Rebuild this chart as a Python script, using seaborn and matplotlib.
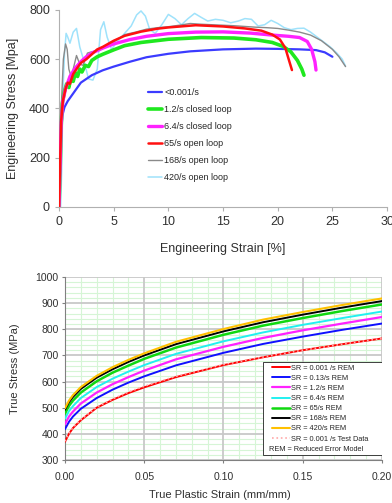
import matplotlib
matplotlib.use("Agg")
import matplotlib.pyplot as plt
from matplotlib.ticker import MultipleLocator
from matplotlib.patches import Rectangle
import seaborn as sns
import pandas as pd

# ---------- top chart data (engineering stress-strain) ----------
eng_labels = ["<0.001/s", "1.2/s closed loop", "6.4/s closed loop",
              "65/s open loop", "168/s open loop", "420/s open loop"]

strain_blue = [0, 0.1, 0.2, 0.3, 0.5, 0.8, 1.2, 2, 3, 4, 5, 6.5, 8, 10, 12, 15, 18, 20, 22, 23.5, 24.3, 25]
stress_blue = [0, 150, 300, 370, 405, 430, 455, 505, 535, 555, 570, 590, 608, 622, 632, 640, 643, 642, 640, 637, 628, 610]

strain_green = [0, 0.1, 0.2, 0.3, 0.5, 0.7, 0.9, 1.1, 1.3, 1.5, 1.7, 1.9, 2.1, 2.4, 2.7, 3, 3.5, 4, 5, 6,
                7.5, 10, 13, 16, 18, 19.5, 20.5, 21.2, 21.8, 22.2, 22.4]
stress_green = [0, 150, 330, 420, 470, 500, 485, 525, 510, 545, 530, 560, 548, 575, 570, 595, 610, 620, 638, 655,
                668, 681, 688, 686, 679, 668, 652, 630, 595, 560, 535]

strain_magenta = [0, 0.1, 0.2, 0.35, 0.6, 1, 1.5, 2, 2.5, 3, 4, 5, 6.5, 8, 10, 12.5, 15, 17.5, 19.5, 21, 22,
                  22.7, 23.1, 23.4, 23.5]
stress_magenta = [0, 170, 340, 430, 480, 530, 565, 590, 610, 625, 645, 662, 680, 693, 704, 710, 711, 706, 698, 693, 688,
                  672, 640, 590, 556]

strain_red = [0, 0.1, 0.2, 0.35, 0.6, 0.8, 1, 1.3, 1.6, 2, 2.5, 3, 3.5, 4, 5, 6, 7.5, 9, 10, 12.5, 15, 17,
              18.5, 19.5, 20.2, 20.7, 21, 21.3]
stress_red = [0, 180, 350, 430, 480, 505, 500, 540, 560, 585, 600, 620, 640, 650, 675, 695, 712, 724, 729, 738, 733, 725,
              716, 700, 680, 645, 600, 556]

strain_gray = [0, 0.1, 0.25, 0.4, 0.6, 0.75, 0.9, 1.1, 1.3, 1.6, 1.9, 2.2, 2.6, 3, 3.5, 4, 5, 6, 7, 8, 9, 10,
               11, 12, 13, 14, 15, 16, 17, 18, 19, 20, 21, 22, 23, 24, 25, 25.6, 26.2]
stress_gray = [0, 200, 450, 600, 662, 640, 560, 530, 560, 615, 580, 575, 625, 630, 635, 645, 670, 700, 710, 722, 728, 732,
               738, 745, 742, 740, 738, 736, 733, 730, 728, 725, 718, 710, 698, 675, 640, 610, 570]

strain_cyan = [0.15, 0.25, 0.35, 0.5, 0.65, 0.8, 1, 1.3, 1.6, 1.9, 2.3, 2.7, 3.1, 3.5, 3.8, 4.1, 4.4, 4.8, 5.3, 6,
               6.6, 7.1, 7.5, 7.9, 8.3, 8.8, 9.4, 10, 10.6, 11.2, 11.8, 12.4, 13, 13.6, 14.3, 15, 15.7, 16.4, 17,
               17.6, 18.2, 18.8, 19.4, 20, 20.6, 21.2, 21.8, 22.4, 23, 23.6, 24.2, 24.8, 25.4, 25.9, 26.2]
stress_cyan = [0, 150, 450, 620, 705, 690, 665, 710, 725, 650, 590, 520, 515, 560, 720, 752, 690, 640, 670, 705,
               735, 780, 796, 775, 720, 705, 740, 782, 765, 740, 765, 786, 770, 755, 762, 758, 748, 755, 765,
               762, 735, 740, 758, 745, 728, 720, 725, 726, 710, 690, 670, 650, 625, 600, 572]

# ---------- bottom chart data (true stress vs true plastic strain) ----------
true_strain = [0, 0.0025, 0.005, 0.01, 0.02, 0.03, 0.04, 0.05, 0.07, 0.10, 0.125, 0.15, 0.175, 0.20]
rem_0001 = [370, 400, 422, 452, 500, 530, 556, 578, 617, 663, 693, 720, 743, 765]
rem_013 = [418, 446, 466, 496, 537, 569, 596, 620, 662, 710, 744, 772, 798, 822]
rem_12 = [437, 466, 485, 516, 558, 590, 617, 642, 685, 733, 767, 796, 822, 847]
rem_64 = [458, 487, 506, 537, 579, 611, 638, 663, 706, 754, 788, 817, 843, 868]
rem_65 = [478, 507, 527, 558, 601, 634, 661, 687, 730, 779, 814, 843, 870, 895]
rem_168 = [492, 521, 541, 572, 615, 647, 675, 700, 743, 792, 827, 856, 883, 908]
rem_420 = [498, 527, 548, 579, 622, 655, 683, 708, 752, 801, 837, 866, 893, 918]
test_0001 = [372, 402, 424, 454, 502, 533, 560, 582, 620, 665, 694, 720, 743, 765]
true_labels = ["SR = 0.001 /s REM", "SR = 0.13/s REM", "SR = 1.2/s REM", "SR = 6.4/s REM",
               "SR = 65/s REM", "SR = 168/s REM", "SR = 420/s REM", "SR = 0.001 /s Test Data"]
x_major = [0, 0.05, 0.10, 0.15, 0.20]
y_major = [300, 400, 500, 600, 700, 800, 900, 1000]

sns.set_style("white")
plt.rcParams["font.family"] = ["Liberation Sans", "DejaVu Sans"]

fig = plt.figure(figsize=(3.92, 5.03), dpi=100)
ax1 = fig.add_axes([0.1505, 0.5885, 0.837, 0.3917])
ax2 = fig.add_axes([0.1658, 0.0855, 0.8087, 0.3638])

# top chart
eng_series = [
    (strain_blue, stress_blue, "#3b3bff", 1.6, 3),
    (strain_green, stress_green, "#1fe81f", 2.6, 4),
    (strain_magenta, stress_magenta, "#ff22ff", 2.4, 5),
    (strain_red, stress_red, "#ff1010", 1.8, 6),
    (strain_gray, stress_gray, "#8a8a8a", 1.0, 2),
    (strain_cyan, stress_cyan, "#9fe2fb", 1.1, 1),
]
for (xs, ys, col, lw, z), lab in zip(eng_series, eng_labels):
    df = pd.DataFrame({"strain": xs, "stress": ys})
    sns.lineplot(data=df, x="strain", y="stress", ax=ax1, color=col, linewidth=lw,
                 estimator=None, sort=False, label=lab, zorder=z)

ax1.set_xlim(0, 30)
ax1.set_ylim(0, 800)
ax1.set_xticks(range(0, 31, 5))
ax1.set_yticks(range(0, 801, 200))
for s in ["top", "right"]:
    ax1.spines[s].set_visible(False)
for s in ["left", "bottom"]:
    ax1.spines[s].set_color("#b0b0b0")
ax1.tick_params(axis="both", labelsize=9, length=3, color="#b0b0b0", pad=3.5, direction="out",
                left=True, bottom=True, labelcolor="#303030")
ax1.set_xlabel("Engineering Strain [%]", fontsize=9, color="#303030")
ax1.set_ylabel("Engineering Stress [Mpa]", fontsize=9, color="#303030")
ax1.xaxis.set_label_coords(0.5, -0.185)
ax1.yaxis.set_label_coords(-0.122, 0.5)
ax1.legend(loc="upper left", bbox_to_anchor=(0.3776, 0.825), bbox_transform=fig.transFigure,
           frameon=False, fontsize=6.5, handlelength=1.55, handletextpad=0.25,
           labelspacing=0.88, borderpad=0, borderaxespad=0)

# bottom chart
true_series = [
    (rem_0001, "#ff0000", 1.4, "-"),
    (rem_013, "#1010ff", 1.4, "-"),
    (rem_12, "#ff22ff", 1.6, "-"),
    (rem_64, "#22f0f0", 1.4, "-"),
    (rem_65, "#10d810", 1.8, "-"),
    (rem_168, "#000000", 1.4, "-"),
    (rem_420, "#ffc000", 1.5, "-"),
    (test_0001, "#ffa8a8", 1.2, ":"),
]
for (ys, col, lw, ls), lab in zip(true_series, true_labels):
    df = pd.DataFrame({"strain": true_strain, "stress": ys})
    sns.lineplot(data=df, x="strain", y="stress", ax=ax2, color=col, linewidth=lw,
                 linestyle=ls, estimator=None, sort=False, label=lab, zorder=3)

ax2.set_xlim(0, 0.20)
ax2.set_ylim(300, 1000)
ax2.set_xticks(x_major)
ax2.set_xticklabels(["0.00", "0.05", "0.10", "0.15", "0.20"])
ax2.set_yticks(y_major)
ax2.xaxis.set_minor_locator(MultipleLocator(0.01))
ax2.yaxis.set_minor_locator(MultipleLocator(20))
ax2.grid(which="minor", color="#d6f5d6", linewidth=0.8, linestyle="-")
ax2.grid(which="major", visible=False)
ax2.set_axisbelow(True)
# major grid drawn over the green minor grid
for xv in x_major:
    ax2.axvline(xv, color="#c8c8c8", linewidth=1.3, zorder=1)
for yv in y_major:
    ax2.axhline(yv, color="#c8c8c8", linewidth=1.3, zorder=1)
for s in ["top", "right"]:
    ax2.spines[s].set_visible(False)
for s in ["left", "bottom"]:
    ax2.spines[s].set_color("#808080")
    ax2.spines[s].set_zorder(2)
ax2.tick_params(axis="both", which="major", labelsize=7.5, length=2.5, color="#808080",
                direction="out", left=True, bottom=True, labelcolor="#303030")
ax2.tick_params(axis="y", which="major", pad=2)
ax2.tick_params(axis="x", which="major", pad=6)
ax2.tick_params(which="minor", length=0)
ax2.set_xlabel("True Plastic Strain (mm/mm)", fontsize=8, color="#303030")
ax2.set_ylabel("True Stress (MPa)", fontsize=8, color="#303030")
ax2.xaxis.set_label_coords(0.489, -0.164)
ax2.yaxis.set_label_coords(-0.142, 0.5)

# legend box with note line
ax2.add_patch(Rectangle((0.625, 0.027), 0.375, 0.508, transform=ax2.transAxes,
                        facecolor="white", edgecolor="#202020", linewidth=0.6, zorder=4))
leg = ax2.legend(loc="upper left", bbox_to_anchor=(0.694, 0.275), bbox_transform=fig.transFigure,
                 frameon=False, fontsize=5.3, handlelength=2.4, handletextpad=0.2,
                 labelspacing=0.4, borderpad=0, borderaxespad=0)
leg.set_zorder(5)
ax2.text(0.644, 0.055, "REM = Reduced Error Model", transform=ax2.transAxes, fontsize=5.3,
         va="center", ha="left", zorder=6)

fig.savefig("out.png", dpi=100)
